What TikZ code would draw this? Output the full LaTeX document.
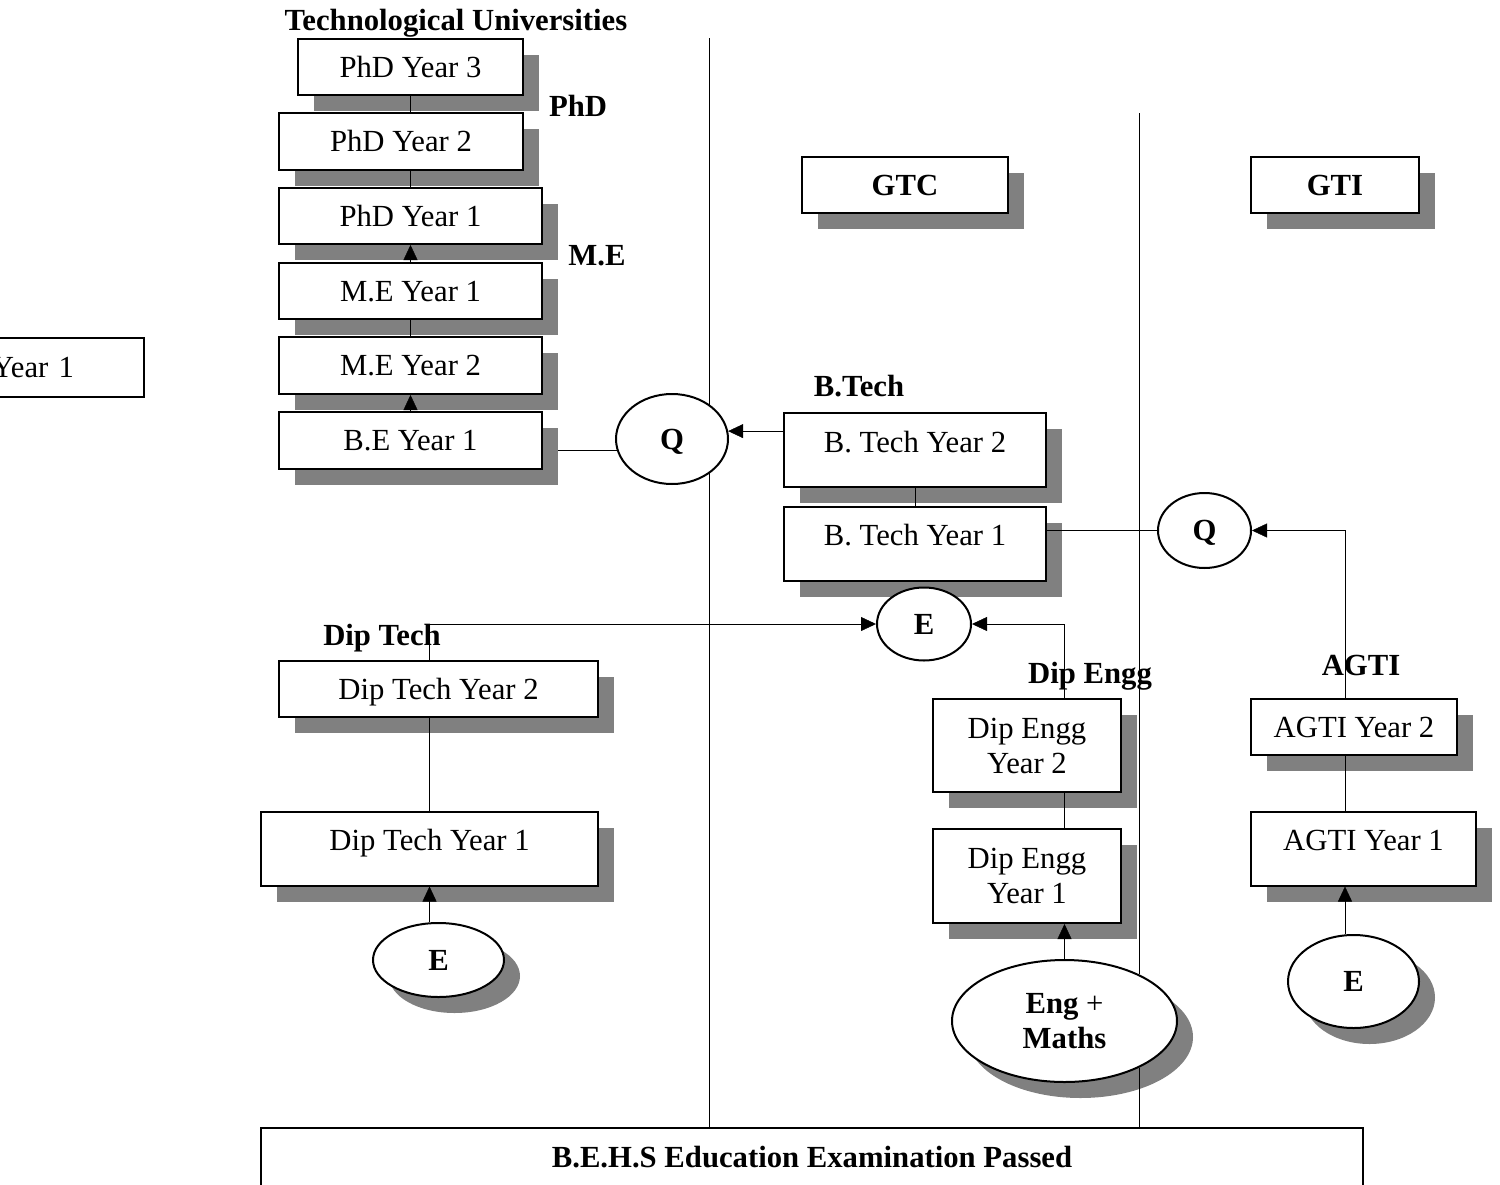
\documentclass[tikz,border=0pt]{standalone}
\usepackage{fontspec}
\setmainfont{Liberation Serif}
\usetikzlibrary{shapes.geometric,arrows.meta,shadows,backgrounds}
\definecolor{shgray}{HTML}{808080}
\begin{document}
\begin{tikzpicture}[x=1pt,y=-1pt, line width=2pt,
  every node/.style={font=\fontsize{30.7}{35}\selectfont, inner sep=0pt},
  shad/.style={drop shadow={shadow xshift=16pt,shadow yshift=-16pt,fill=shgray,opacity=1}},
  base/.style={draw, fill=white, rectangle},
  oneline/.style={text height=20pt, text depth=0pt},
  sbox/.style={base, oneline, shad},
  tbox/.style={base, text height=39pt, text depth=35pt, shad},
  twobox/.style={base, align=center, shad},
  oval/.style={draw, fill=white, ellipse, font=\fontsize{30.7}{35}\selectfont\bfseries, oneline},
  lab/.style={font=\fontsize{30.7}{35}\selectfont\bfseries, oneline},
  arr/.style={-{Triangle[length=15pt,width=14pt]}}]
\useasboundingbox (0,0) rectangle (1500,1184);

% labels
\node[lab] (Ltu) at (456,20) {Technological Universities};
\node[lab] (Lphd) at (578,106) {PhD};
\node[lab] (Lme) at (597,255) {M.E};
\node[lab] (Lbt) at (859,386) {B.Tech};
\node[lab] (Ldt) at (382,635) {Dip Tech};
\node[lab] (Lde) at (1090,673) {Dip Engg};
\node[lab] (Lag) at (1361,665) {AGTI};

% left partial box
\node[base, minimum width=260pt, minimum height=59pt, text width=120pt, align=right, anchor=east] (Y1) at (145,367.5) {Year 1};

% university column
\node[sbox, minimum width=225pt, minimum height=56pt] (P3) at (410.5,67) {PhD Year 3};
\node[sbox, minimum width=244pt, minimum height=57pt] (P2) at (401,141.5) {PhD Year 2};
\node[sbox, minimum width=263pt, minimum height=56pt] (P1) at (410.5,216) {PhD Year 1};
\node[sbox, minimum width=263pt, minimum height=56pt] (M1) at (410.5,291) {M.E Year 1};
\node[sbox, minimum width=263pt, minimum height=57pt] (M2) at (410.5,365.5) {M.E Year 2};
\node[sbox, minimum width=263pt, minimum height=57pt] (BE) at (410.5,440.5) {B.E Year 1};

\node[oval, minimum width=112pt, minimum height=90pt] (Q) at (672,439) {Q};

% GTC / GTI
\node[sbox, minimum width=206pt, minimum height=56pt, font=\fontsize{30.7}{35}\selectfont\bfseries] (GTC) at (905,185) {GTC};
\node[sbox, minimum width=168pt, minimum height=56pt, font=\fontsize{30.7}{35}\selectfont\bfseries] (GTI) at (1335,185) {GTI};

% B.Tech
\node[tbox, minimum width=262pt] (BT2) at (915,450) {B. Tech Year 2};
\node[tbox, minimum width=262pt] (BT1) at (915,543.5) {B. Tech Year 1};
\node[oval, minimum width=93pt, minimum height=75pt] (Q2) at (1204.5,530.5) {Q};
\node[oval, minimum width=94pt, minimum height=73pt] (Em) at (924,624) {E};

% Dip Tech
\node[sbox, minimum width=319pt, minimum height=56pt] (DT2) at (438.5,689) {Dip Tech Year 2};
\node[tbox, minimum width=337pt] (DT1) at (429.5,848.5) {Dip Tech Year 1};
\node[oval, shad, minimum width=131pt, minimum height=74pt] (DTE) at (438.5,960) {E};

% Dip Engg
\node[twobox, minimum width=188pt, minimum height=93pt] (DE2) at (1027,745.5) {Dip Engg\\Year 2};
\node[twobox, minimum width=188pt, minimum height=94pt] (DE1) at (1027,876) {Dip Engg\\Year 1};
\node[draw, fill=white, ellipse, shad, minimum width=225pt, minimum height=122pt, align=center] (EM) at (1064.5,1021) {\textbf{Eng} +\\\textbf{Maths}};

% AGTI
\node[sbox, minimum width=206pt, minimum height=56pt] (AG2) at (1354,727) {AGTI Year 2};
\node[tbox, minimum width=225pt] (AG1) at (1363.5,848.5) {AGTI Year 1};
\node[oval, shad, minimum width=131pt, minimum height=93pt] (ER) at (1353.5,981.5) {E};

% bottom box
\node[base, minimum width=1102pt, text height=39pt, text depth=61pt, font=\fontsize{30.7}{35}\selectfont\bfseries] (B) at (812,1178) {B.E.H.S Education Examination Passed};

% coordinates
\coordinate (L1) at (709.5,38);
\coordinate (L2) at (1139,113);
\coordinate (AC) at (1345,530.5);

\begin{pgfonlayer}{background}
  \draw (L1) -- (L1 |- B.north);
  \draw (BE.east |- Q.191) -- (Q.191);
\end{pgfonlayer}

\draw (L2) -- (L2 |- EM.32);
\draw (L2 |- EM.-32) -- (L2 |- B.north);

% university connectors
\draw (P3.south) -- (P3.south |- P2.north);
\draw (P3.south |- P2.south) -- (P3.south |- P1.north);
\draw[arr] (M1.north) -- (P1.south);
\draw (M1.south) -- (M2.north);
\draw[arr] (BE.north) -- (M2.south);

% B.Tech connectors
\draw[arr] (BT2.west |- Q.8) -- (Q.8);
\draw (BT2.south) -- (BT1.north);
\draw (BT1.east |- Q2.west) -- (Q2.west);

% AGTI connectors
\draw[arr] (AG2.north -| AC) -- (AC) -- (Q2.east);
\draw (AG2.south -| AC) -- (AG1.north -| AC);
\draw[arr] (ER.north -| AC) -- (AG1.south -| AC);

% Dip Tech connectors
\draw[arr] (DT1.north |- DT2.north) -- (DT1.north |- Em.west) -- (Em.west);
\draw (DT2.south -| DT1.north) -- (DT1.north);
\draw[arr] (DTE.north -| DT1.south) -- (DT1.south);

% Dip Engg connectors
\draw[arr] (EM.north |- DE2.north) -- (EM.north |- Em.east) -- (Em.east);
\draw (EM.north |- DE2.south) -- (EM.north |- DE1.north);
\draw[arr] (EM.north) -- (EM.north |- DE1.south);
\end{tikzpicture}
\end{document}
